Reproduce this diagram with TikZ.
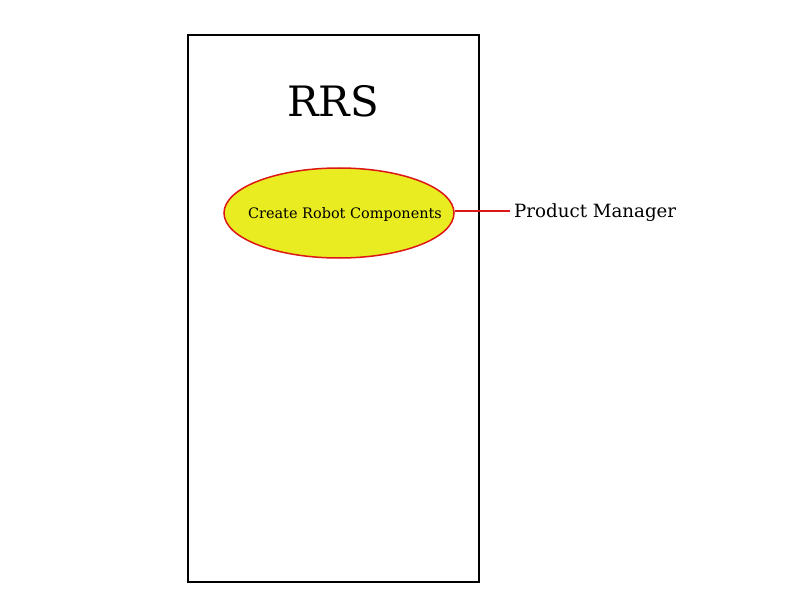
\documentclass[tikz,border=0pt]{standalone}
\usepackage{fontspec}
\setmainfont{DejaVu Serif}
\usetikzlibrary{shapes.geometric}
\definecolor{ufill}{HTML}{E8EC20}
\definecolor{uline}{HTML}{DD1616}
\tikzset{
  usecase/.style={ellipse, draw=uline, fill=ufill, line width=1.5bp, minimum width=230bp, minimum height=90bp, inner sep=0pt},
  uctext/.style={inner sep=0pt, font=\fontsize{14.5}{16}\selectfont},
  assoc/.style={draw=uline, line width=1.5bp},
  sysbox/.style={draw=black, line width=1.5bp}
}
\begin{document}
\begin{tikzpicture}[x=1bp,y=-1bp]
\useasboundingbox (0,0) rectangle (800,600);
\draw[sysbox] (188,35) rectangle (479,582);
\node[font=\fontsize{42}{46}\selectfont] (title) at (333,101) {RRS};
\node[usecase] (uc) at (339,213) {};
\node[uctext] (uclabel) at (345,215) {Create Robot Components};
\coordinate (actend) at (510,211);
\node[anchor=west, inner sep=0pt, font=\fontsize{18.3}{22}\selectfont] (actor) at (514,213) {Product Manager};
\draw[assoc] (uc.east |- actend) -- (actend);
\end{tikzpicture}
\end{document}
